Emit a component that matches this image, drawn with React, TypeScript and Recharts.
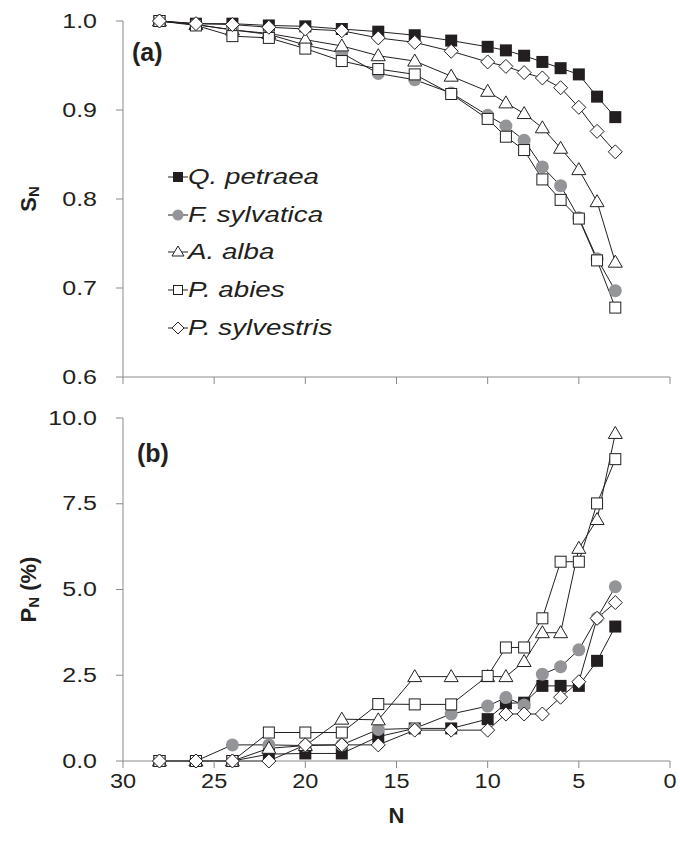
import React from 'react'
import { LineChart, Line, XAxis, YAxis, Legend, Label } from 'recharts'

// N = number of trees kept in the chronology
const nValues = [28, 26, 24, 22, 20, 18, 16, 14, 12, 10, 9, 8, 7, 6, 5, 4, 3]

// (a) S_N
const sQPetraea = [1.0, 0.997, 0.997, 0.995, 0.994, 0.991, 0.988, 0.984, 0.978, 0.971, 0.967, 0.961, 0.954, 0.947, 0.94, 0.915, 0.892]
const sFSylvatica = [1.0, 0.996, 0.99, 0.985, 0.973, 0.964, 0.941, 0.934, 0.919, 0.894, 0.882, 0.866, 0.836, 0.815, 0.779, 0.733, 0.697]
const sAAlba = [1.0, 0.996, 0.99, 0.986, 0.979, 0.972, 0.961, 0.955, 0.938, 0.921, 0.908, 0.896, 0.88, 0.857, 0.833, 0.797, 0.729]
const sPAbies = [1.0, 0.995, 0.983, 0.981, 0.969, 0.955, 0.946, 0.94, 0.918, 0.89, 0.87, 0.855, 0.822, 0.799, 0.778, 0.731, 0.678]
const sPSylvestris = [1.0, 0.997, 0.996, 0.993, 0.991, 0.989, 0.981, 0.976, 0.966, 0.954, 0.949, 0.942, 0.936, 0.925, 0.903, 0.876, 0.853]

// (b) P_N (%)
const pQPetraea = [0, 0, 0, 0.2, 0.22, 0.22, 0.71, 0.95, 0.95, 1.22, 1.68, 1.7, 2.19, 2.19, 2.19, 2.92, 3.92]
const pFSylvatica = [0, 0, 0.47, 0.47, 0.45, 0.47, 0.92, 0.95, 1.37, 1.6, 1.85, 1.63, 2.53, 2.75, 3.24, 4.17, 5.08]
const pAAlba = [0, 0, 0, 0.37, 0.45, 1.22, 1.2, 2.46, 2.46, 2.46, 2.46, 2.9, 3.74, 3.74, 6.2, 7.04, 9.55]
const pPAbies = [0, 0, 0, 0.83, 0.83, 0.83, 1.66, 1.65, 1.65, 2.48, 3.31, 3.31, 4.16, 5.81, 5.81, 7.51, 8.8]
const pPSylvestris = [0, 0, 0, 0, 0.47, 0.47, 0.47, 0.9, 0.9, 0.9, 1.37, 1.37, 1.37, 1.86, 2.31, 4.16, 4.62]

const xTicks = [0, 5, 10, 15, 20, 25, 30]
const sTicks = [0.6, 0.7, 0.8, 0.9, 1.0]
const pTicks = [0, 2.5, 5, 7.5, 10]

const species = [
  { key: 'qPetraea', name: 'Q. petraea', shape: 'filledSquare', s: sQPetraea, p: pQPetraea },
  { key: 'fSylvatica', name: 'F. sylvatica', shape: 'circle', s: sFSylvatica, p: pFSylvatica },
  { key: 'aAlba', name: 'A. alba', shape: 'triangle', s: sAAlba, p: pAAlba },
  { key: 'pAbies', name: 'P. abies', shape: 'square', s: sPAbies, p: pPAbies },
  { key: 'pSylvestris', name: 'P. sylvestris', shape: 'diamond', s: sPSylvestris, p: pPSylvestris },
]

const topRows = nValues.map((n, i) => {
  const row: any = { n }
  species.forEach((sp) => (row[sp.key] = sp.s[i]))
  return row
})
const bottomRows = nValues.map((n, i) => {
  const row: any = { n }
  species.forEach((sp) => (row[sp.key] = sp.p[i]))
  return row
})

const INK = '#231f20'
const GREY = '#939598'
const AXIS = '#8a8a8a'
const FONT = 'Arial, "Liberation Sans", sans-serif'

function Marker({ shape, cx, cy, size = 12 }: { shape: string; cx: number; cy: number; size?: number }) {
  const h = size / 2
  switch (shape) {
    case 'filledSquare':
      return <rect x={cx - h} y={cy - h} width={size} height={size} fill={INK} />
    case 'circle':
      return <circle cx={cx} cy={cy} r={h + 0.5} fill={GREY} />
    case 'triangle':
      return (
        <path
          d={`M${cx},${cy - h - 1} L${cx + h + 1},${cy + h - 1} L${cx - h - 1},${cy + h - 1} Z`}
          fill="#fff"
          stroke={INK}
          strokeWidth={1}
        />
      )
    case 'square':
      return <rect x={cx - h + 0.5} y={cy - h + 0.5} width={size - 1} height={size - 1} fill="#fff" stroke={INK} strokeWidth={1} />
    default:
      return (
        <path
          d={`M${cx},${cy - h - 1} L${cx + h + 1},${cy} L${cx},${cy + h + 1} L${cx - h - 1},${cy} Z`}
          fill="#fff"
          stroke={INK}
          strokeWidth={1}
        />
      )
  }
}

const YTick = ({ x, y, payload }: any) => (
  <g transform={`translate(${x},${y})`}>
    <text transform="scale(1.25,1)" textAnchor="end" dominantBaseline="central" fontSize={20} fontFamily={FONT} fill={INK}>
      {payload.value.toFixed(1)}
    </text>
  </g>
)

const XTick = ({ x, y, payload }: any) => (
  <g transform={`translate(${x},${y})`}>
    <text transform="scale(1.12,1)" textAnchor="middle" dy="0.75em" fontSize={21} fontFamily={FONT} fill={INK}>
      {payload.value}
    </text>
  </g>
)

const axisTitle = (main: string, sub: string, rest: string) => (props: any) => {
  const { viewBox } = props
  const cx = viewBox.x - 35
  const cy = viewBox.y + viewBox.height / 2
  return (
    <text
      x={cx}
      y={cy}
      transform={`rotate(-90, ${cx}, ${cy})`}
      textAnchor="middle"
      dominantBaseline="central"
      fontFamily={FONT}
      fontWeight="bold"
      fontSize={22}
      fill={INK}
    >
      {main}
      <tspan fontSize={15} dy={5}>
        {sub}
      </tspan>
      {rest && <tspan dy={-5}>{rest}</tspan>}
    </text>
  )
}

function LegendBox() {
  return (
    <div style={{ fontFamily: FONT, fontStyle: 'italic', fontSize: 22, color: INK }}>
      {species.map((sp) => (
        <div key={sp.key} style={{ display: 'flex', alignItems: 'center', height: 37.75 }}>
          <svg width={22} height={16} style={{ display: 'block' }}>
            <line x1={2} x2={22} y1={8} y2={8} stroke={INK} strokeWidth={1} />
            <Marker shape={sp.shape} cx={12} cy={8} size={10} />
          </svg>
          <span style={{ display: 'inline-block', transform: 'scaleX(1.26)', transformOrigin: 'left center', whiteSpace: 'nowrap' }}>
            {sp.name}
          </span>
        </div>
      ))}
    </div>
  )
}

function seriesLines(prefix: string) {
  return species.map((sp) => (
    <Line
      key={`${prefix}-${sp.key}`}
      dataKey={sp.key}
      name={sp.name}
      type="linear"
      stroke={INK}
      strokeWidth={1}
      isAnimationActive={false}
      dot={(p: any) => <Marker key={`${prefix}-${sp.key}-${p.index}`} shape={sp.shape} cx={p.cx} cy={p.cy} />}
      activeDot={false}
    />
  ))
}

const panelLabel: React.CSSProperties = {
  position: 'absolute',
  fontFamily: FONT,
  fontWeight: 'bold',
  fontSize: 25,
  lineHeight: '26px',
  color: INK,
}

export default function App() {
  return (
    <div style={{ position: 'absolute', left: 0, top: 0, width: 680, height: 852, background: '#fff' }}>
      <div style={{ position: 'absolute', left: 0, top: 0 }}>
        <LineChart width={680} height={390} data={topRows} margin={{ top: 21, right: 10, left: 63, bottom: 0 }}>
          <XAxis
            dataKey="n"
            type="number"
            domain={[0, 30]}
            ticks={xTicks}
            reversed
            height={13}
            tickSize={7}
            tick={() => <g />}
            stroke={AXIS}
          />
          <YAxis
            type="number"
            domain={[0.6, 1.0]}
            ticks={sTicks}
            width={60}
            tickSize={7}
            tickMargin={19}
            tick={<YTick />}
            stroke={AXIS}
          >
            <Label content={axisTitle('S', 'N', '')} />
          </YAxis>
          <Legend
            layout="vertical"
            align="center"
            verticalAlign="middle"
            wrapperStyle={{ left: 166, top: 158, width: 200 }}
            content={() => <LegendBox />}
          />
          {seriesLines('s')}
        </LineChart>
      </div>
      <div style={{ ...panelLabel, left: 132, top: 39 }}>(a)</div>

      <div style={{ position: 'absolute', left: 0, top: 390 }}>
        <LineChart width={680} height={462} data={bottomRows} margin={{ top: 28, right: 10, left: 63, bottom: 51 }}>
          <XAxis
            dataKey="n"
            type="number"
            domain={[0, 30]}
            ticks={xTicks}
            reversed
            height={40}
            tickSize={7}
            tickMargin={4}
            tick={<XTick />}
            stroke={AXIS}
          >
            <Label
              value="N"
              position="bottom"
              offset={6}
              style={{ fontFamily: FONT, fontWeight: 'bold', fontSize: 22, fill: INK }}
            />
          </XAxis>
          <YAxis
            type="number"
            domain={[0, 10]}
            ticks={pTicks}
            width={60}
            tickSize={7}
            tickMargin={19}
            tick={<YTick />}
            stroke={AXIS}
          >
            <Label content={axisTitle('P', 'N', ' (%)')} />
          </YAxis>
          {seriesLines('p')}
        </LineChart>
      </div>
      <div style={{ ...panelLabel, left: 137, top: 440 }}>(b)</div>
    </div>
  )
}
